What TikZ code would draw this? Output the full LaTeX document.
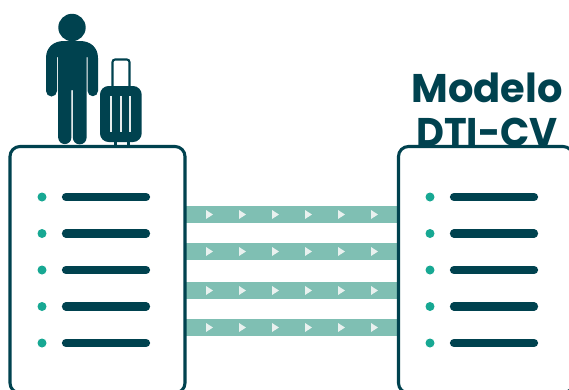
\documentclass[tikz,border=0pt]{standalone}
\usepackage{fontspec}
\setmainfont{Poppins}
\definecolor{dark}{HTML}{00424F}
\definecolor{dotc}{HTML}{17A893}
\definecolor{band}{HTML}{7FBFB3}
\definecolor{tri}{HTML}{E9F1EF}
\tikzset{
  panel/.style={draw=dark,line width=2.3pt,fill=white,rounded corners=7.5},
  barline/.style={draw=dark,line width=6.2pt,line cap=round},
  dotm/.style={fill=dotc},
  bandm/.style={fill=band},
  trim/.style={fill=tri},
  title/.style={font=\bfseries\fontsize{30}{30}\selectfont,text=dark,inner sep=0pt,anchor=base}
}
\begin{document}
\begin{tikzpicture}[x=0.75pt,y=-0.75pt,line width=0.75pt]
\useasboundingbox[fill=white] (0,0) rectangle (569,390);
\begin{scope}
\clip (0,0) rectangle (569,390);
% title (behind the panel)
\node[title] (t1) at (487,102) {Modelo};
\node[title,xscale=0.96] (t2) at (487,146.5) {DTI-CV};
% bands
\foreach \y in {206,243,282,319}{
  \fill[bandm] (185,\y) rectangle (398,\y+17);
  \foreach \x in {206,239,272,305,338,371}{
    \fill[trim] (\x,\y+4) -- (\x+7,\y+8.5) -- (\x,\y+13) -- cycle;
  }
}
% panels
\draw[panel] (10,146.5) rectangle (185,393);
\draw[panel] (398.5,146.5) rectangle (573,393);
\foreach \y in {197,233.5,270,306.5,343}{
  \fill[dotm] (42,\y) circle (4.5);
  \draw[barline] (66,\y) -- (146,\y);
  \fill[dotm] (430,\y) circle (4.5);
  \draw[barline] (454,\y) -- (534,\y);
}
% person
\fill[dark] (72,27.5) circle (13.7);
\fill[dark] (46,58)
  .. controls (46,47) and (54,41) .. (64,41) -- (80,41)
  .. controls (90,41) and (98,47) .. (98,58)
  -- (98,91) arc[start angle=0,end angle=180,radius=5.2]
  -- (87.6,57) -- (86.6,57) -- (86.6,137.5)
  arc[start angle=0,end angle=180,radius=6.9] -- (72.8,90) -- (71.4,90) -- (71.4,137.5)
  arc[start angle=0,end angle=180,radius=6.6] -- (58.2,57) -- (57,57) -- (57,91)
  arc[start angle=0,end angle=180,radius=5.5] -- cycle;
% suitcase
\draw[dark,line width=1.6pt,rounded corners=2] (112.5,88) -- (112.5,59.5) -- (129.5,59.5) -- (129.5,88);
\fill[dark] (113.5,140) rectangle (116.5,145);
\fill[dark] (127,140) rectangle (130,145);
\fill[dark,rounded corners=6.5pt] (100,86) rectangle (141.7,142);
\foreach \x in {111,120.7,130.2}{
  \fill[white!90!dark] (\x-0.8,96) rectangle (\x+0.8,131.5);
}
\end{scope}
\end{tikzpicture}
\end{document}
